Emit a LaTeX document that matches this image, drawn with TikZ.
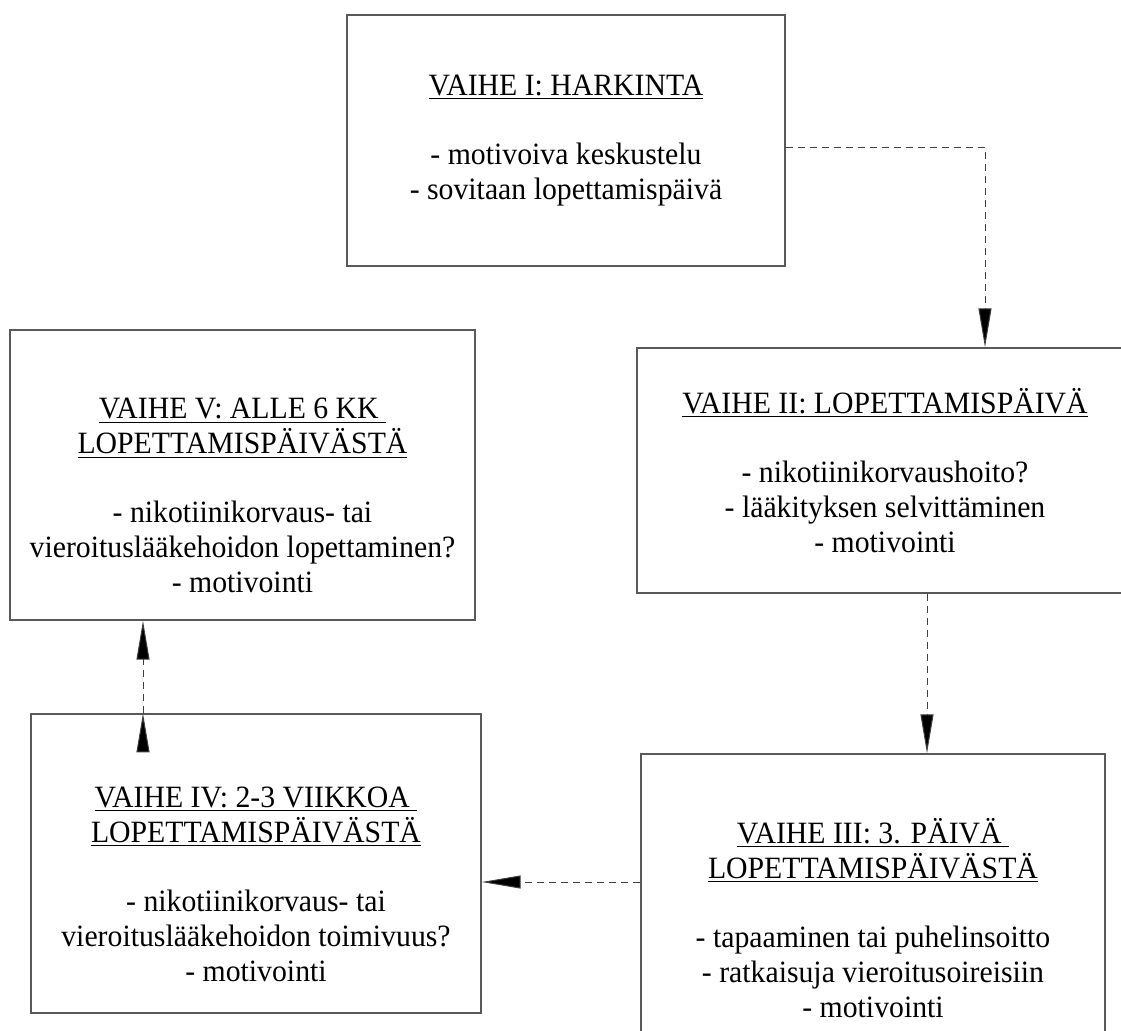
\documentclass[tikz,border=0pt]{standalone}
\usepackage{fontspec}
\setmainfont[FakeStretch=0.96]{Liberation Serif}
\usetikzlibrary{arrows.meta}
\tikzset{phase node/.style={rectangle,draw=black!65,line width=0.7pt,align=center,inner sep=0pt},
  flow/.style={draw=black!75,line width=0.5pt,dash pattern=on 3.5pt off 2.5pt,-{Triangle[length=19.5pt,width=6.5pt,fill=black]}},}
\newcommand{\lowtop}{\rule{0pt}{31pt}}

\begin{document}
\begin{tikzpicture}[x=0.5pt,y=-0.5pt,font=\fontsize{15.5}{17.5}\selectfont]
   \useasboundingbox (0,0) rectangle (1121,1030);

   \node[phase node,minimum width=219pt,minimum height=125.5pt] (b1) at (566,140.5)
     {\underline{VAIHE I: HARKINTA}\\[17pt] - motivoiva keskustelu\\ - sovitaan lopettamispäivä};
   \node[phase node,minimum width=248pt,minimum height=122.5pt] (b2) at (885,470.5)
     {\underline{VAIHE II: LOPETTAMISPÄIVÄ}\\[17pt] - nikotiinikorvaushoito?\\ - lääkityksen selvittäminen\\ - motivointi};
   \node[phase node,minimum width=232pt,minimum height=164pt] (b3) at (873,918)
     {\underline{VAIHE III: 3. PÄIVÄ\ }\\ \underline{LOPETTAMISPÄIVÄSTÄ}\\[17pt] - tapaaminen tai puhelinsoitto\\ - ratkaisuja vieroitusoireisiin\\ - motivointi};
   \node[phase node,minimum width=225pt,minimum height=149.5pt] (b4) at (256,863.5)
     {\lowtop\underline{VAIHE IV: 2-3 VIIKKOA\ }\\ \underline{LOPETTAMISPÄIVÄSTÄ}\\[17pt] - nikotiinikorvaus- tai\\ vieroituslääkehoidon toimivuus?\\ - motivointi};
   \node[phase node,minimum width=232.5pt,minimum height=145pt] (b5) at (242.5,475)
     {\lowtop\underline{VAIHE V: ALLE 6 KK\ }\\ \underline{LOPETTAMISPÄIVÄSTÄ}\\[17pt] - nikotiinikorvaus- tai\\ vieroituslääkehoidon lopettaminen?\\ - motivointi};

   \path[flow]
   ([yshift=-3.25pt]b1.east) edge[to path={-| (\tikztotarget)}] ([xshift=50pt]b2.north)
   ([xshift=21pt]b2.south) edge ([xshift=27pt]b3.north)
   ([yshift=18pt]b3.west) edge ([yshift=-9.25pt]b4.east)
   ([xshift=-56.5pt]b4.north) edge ([xshift=-49.75pt]b5.south);
\end{tikzpicture}
\end{document}
